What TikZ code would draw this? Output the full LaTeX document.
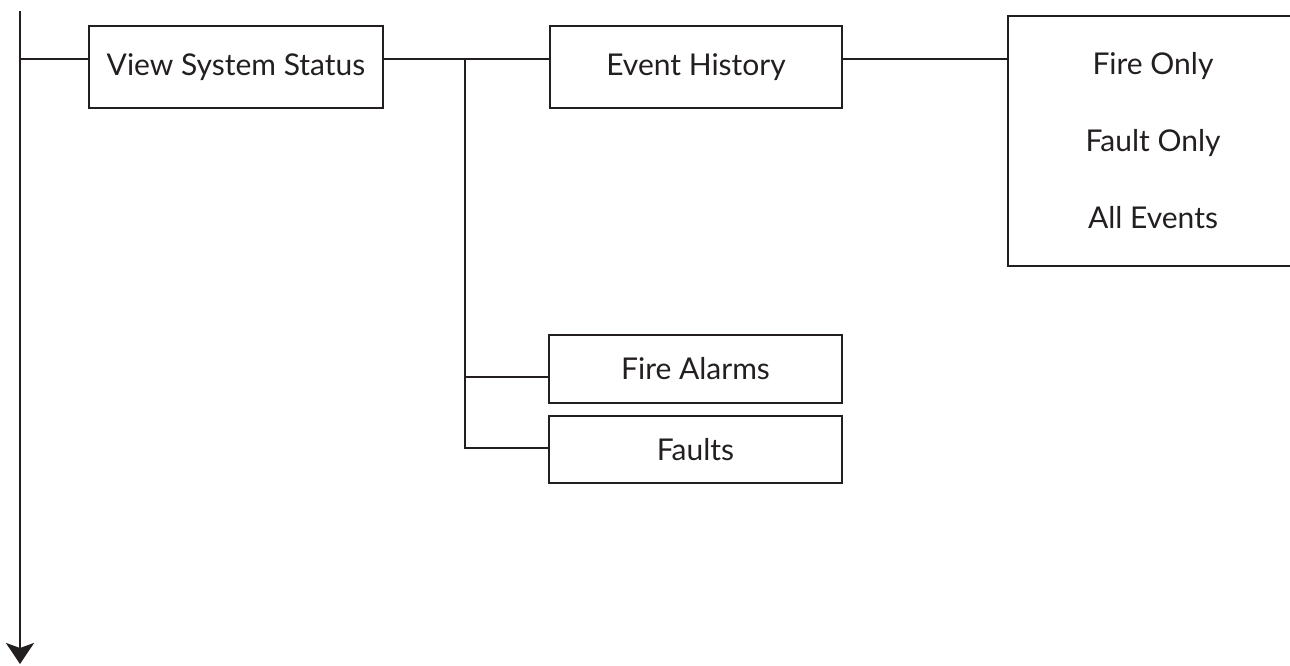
\documentclass[tikz,border=0pt]{standalone}
\usepackage{fontspec}
\setmainfont{Lato}
\usetikzlibrary{arrows.meta}
\definecolor{ink}{HTML}{231F20}
\tikzset{
  box/.style={draw=ink, line width=2.8pt, text=ink, inner sep=0pt, font=\fontsize{30}{36}\selectfont},
  conn/.style={draw=ink, line width=2.8pt},
}
\begin{document}
\begin{tikzpicture}[x=1pt,y=-1pt]
\useasboundingbox (0,0) rectangle (1290,665);
\clip (0,0) rectangle (1290,665);
\coordinate (top) at (20,11);
\coordinate (bot) at (20,664);
\coordinate (br) at (465,59);
\node[box, minimum width=294pt, minimum height=82pt] (vss) at (236,67) {View System Status};
\node[box, minimum width=292pt, minimum height=82pt] (eh) at (696,67) {Event History};
\node[box, minimum width=293pt, minimum height=68pt] (fa) at (695.5,369) {Fire Alarms};
\node[box, minimum width=293pt, minimum height=67pt] (ft) at (695.5,449.5) {Faults};
\node[box, minimum width=290pt, minimum height=250pt, align=center, font=\fontsize{30}{77}\selectfont] (opts) at (1153,141) {Fire Only\\Fault Only\\All Events};
\draw[conn, -{Stealth[length=21pt,width=28pt,inset=5pt,fill=ink]}] (top) -- (bot);
\draw[conn] ([yshift=8pt]vss.west) -- ([yshift=8pt]vss.west -| top);
\draw[conn] ([yshift=8pt]vss.east) -- ([yshift=8pt]eh.west);
\draw[conn] ([yshift=8pt]eh.east) -- ([yshift=8pt]eh.east -| opts.west);
\draw[conn] (br) |- ([yshift=-8pt]fa.west);
\draw[conn] (br) |- ([yshift=1.5pt]ft.west);
\end{tikzpicture}
\end{document}
